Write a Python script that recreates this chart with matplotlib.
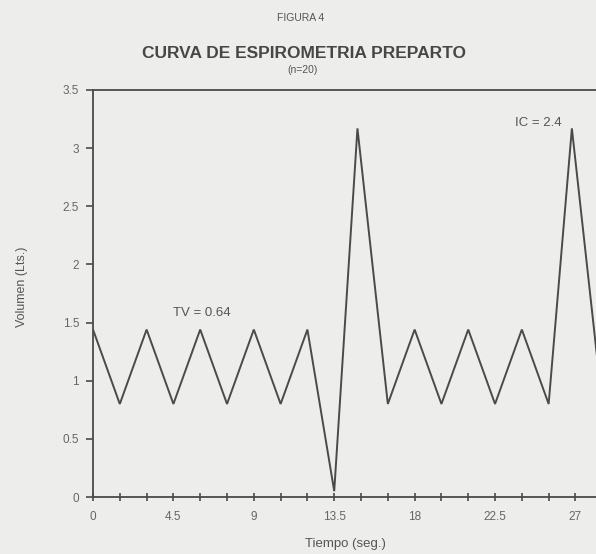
#!/usr/bin/env python3
"""Spirometry curve (FIGURA 4) redrawn with matplotlib."""

import matplotlib.pyplot as plt

plt.rcParams["font.family"] = ["Liberation Sans", "DejaVu Sans"]

INK = "#4a4a4a"
TXT = "#555555"
BG = "#ededeb"

# breathing curve: time (s) and volume (L)
time_s = [0, 1.5, 3, 4.5, 6, 7.5, 9, 10.5, 12, 13.5, 14.8,
          16.5, 18, 19.5, 21, 22.5, 24, 25.5, 26.8, 28.5]
volume_l = [1.44, 0.8, 1.44, 0.8, 1.44, 0.8, 1.44, 0.8, 1.44, 0.05, 3.17,
            0.8, 1.44, 0.8, 1.44, 0.8, 1.44, 0.8, 3.17, 0.8]

x_ticks = [i * 1.5 for i in range(19)]
x_labels = ["0", "4.5", "9", "13.5", "18", "22.5", "27"]
y_ticks = [0, 0.5, 1, 1.5, 2, 2.5, 3, 3.5]
y_labels = ["0", "0.5", "1", "1.5", "2", "2.5", "3", "3.5"]

fig = plt.figure(figsize=(5.96, 5.54), dpi=100, facecolor=BG)
ax = fig.add_axes([93 / 596, 57 / 554, 503 / 596, 407 / 554])
ax.set_facecolor(BG)

ax.plot(time_s, volume_l, color=INK, linewidth=1.4, solid_joinstyle="miter")

ax.set_xlim(0, 28.15)
ax.set_ylim(0, 3.5)

ax.set_xticks(x_ticks)
ax.set_xticklabels([x_labels[i // 3] if i % 3 == 0 else "" for i in range(len(x_ticks))])
ax.set_yticks(y_ticks)
ax.set_yticklabels(y_labels)
ax.tick_params(axis="x", direction="inout", length=6, width=1.2, colors=INK,
               labelsize=8.5, pad=7, labelcolor="#666666")
ax.tick_params(axis="y", direction="out", length=5, width=1.2, colors=INK,
               labelsize=8.5, pad=5, labelcolor="#666666")

for side in ("left", "bottom", "top"):
    ax.spines[side].set_color(INK)
    ax.spines[side].set_linewidth(1.3)
ax.spines["right"].set_visible(False)

ax.text(6.1, 1.58, "TV = 0.64", ha="center", va="center", fontsize=9.5, color=TXT)
ax.text(26.2, 3.22, "IC = 2.4", ha="right", va="center", fontsize=9.5, color=TXT)

fig.text(0.505, 1 - 18 / 554, "FIGURA 4", ha="center", va="center", fontsize=7.5,
         color=TXT)
fig.text(0.51, 1 - 53 / 554, "CURVA DE ESPIROMETRIA PREPARTO", ha="center",
         va="center", fontsize=12.5, fontweight="bold", color="#474747")
fig.text(0.508, 1 - 70 / 554, "(n=20)", ha="center", va="center", fontsize=7.5,
         color=TXT)
fig.text(22 / 596, 1 - 287 / 554, "Volumen (Lts.)", ha="center", va="center",
         rotation=90, fontsize=9, color=TXT)
fig.text(345 / 596, 1 - 544 / 554, "Tiempo (seg.)", ha="center", va="center",
         fontsize=9.5, color=TXT)

fig.savefig("out.png", dpi=100, facecolor=BG)
